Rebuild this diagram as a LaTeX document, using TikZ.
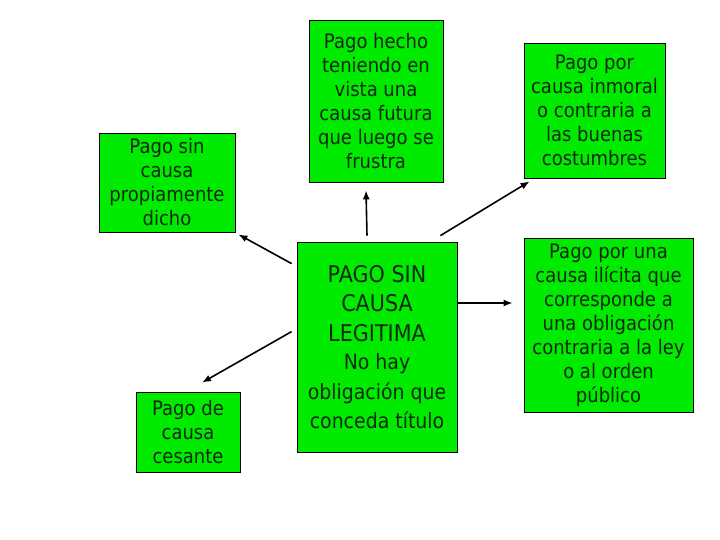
\documentclass[tikz,border=0pt]{standalone}
\usepackage{fontspec}
\setmainfont{DejaVu Sans}[FakeStretch=0.9]
\usetikzlibrary{arrows.meta}
\definecolor{boxgreen}{RGB}{0,235,0}
\definecolor{txt}{RGB}{15,40,15}
\newcommand{\cfa}{\fontsize{23}{29.5}\selectfont}
\newcommand{\cfb}{\fontsize{21}{27}\selectfont}
\tikzset{
  gbox/.style={draw=black, line width=0.8pt, fill=boxgreen, text=txt, align=center,
    inner sep=0pt, font=\fontsize{20}{24}\selectfont},
  conn/.style={line width=1.6pt, -{Latex[length=9pt,width=7pt]}, black}
}
\begin{document}
\begin{tikzpicture}[x=1pt,y=-1pt]
\useasboundingbox[fill=white] (0,0) rectangle (720,540);
\node[gbox, minimum width=136pt, minimum height=99pt] (b1) at (167,182.5)
  {Pago sin\\causa\\propiamente\\dicho};
\node[gbox, minimum width=134pt, minimum height=162pt] (b2) at (376,101)
  {Pago hecho\\teniendo en\\vista una\\causa futura\\que luego se\\frustra};
\node[gbox, minimum width=141pt, minimum height=135pt] (b3) at (594.5,110.5)
  {Pago por\\causa inmoral\\o contraria a\\las buenas\\costumbres};
\node[gbox, minimum width=104pt, minimum height=80pt] (b4) at (188,432)
  {Pago de\\causa\\cesante};
\node[gbox, minimum width=160pt, minimum height=210pt, font=\cfa] (c) at (377,347)
  {\cfa PAGO SIN\\\cfa CAUSA\\\cfa LEGITIMA\\[-1pt]
   \cfb No hay\\\cfb obligación que\\\cfb conceda título};
\node[gbox, minimum width=169pt, minimum height=174pt] (b6) at (608.5,325)
  {Pago por una\\causa ilícita que\\corresponde a\\una obligación\\contraria a la ley\\o al orden\\público};
\draw[conn] ([shift={(-10,-6)}]c.north) -- ([shift={(-10,8)}]b2.south);
\draw[conn] ([shift={(-17,-6)}]c.north east) -- ([shift={(6,3)}]b3.south west);
\draw[conn] ([shift={(-5,22)}]c.north west) -- ([shift={(3,2)}]b1.south east);
\draw[conn] ([shift={(-5,90)}]c.north west) -- ([shift={(14,-9)}]b4.north);
\draw[conn] (c.east |- 0,303) -- ([shift={(-11,0)}]b6.west |- 0,303);
\end{tikzpicture}
\end{document}
